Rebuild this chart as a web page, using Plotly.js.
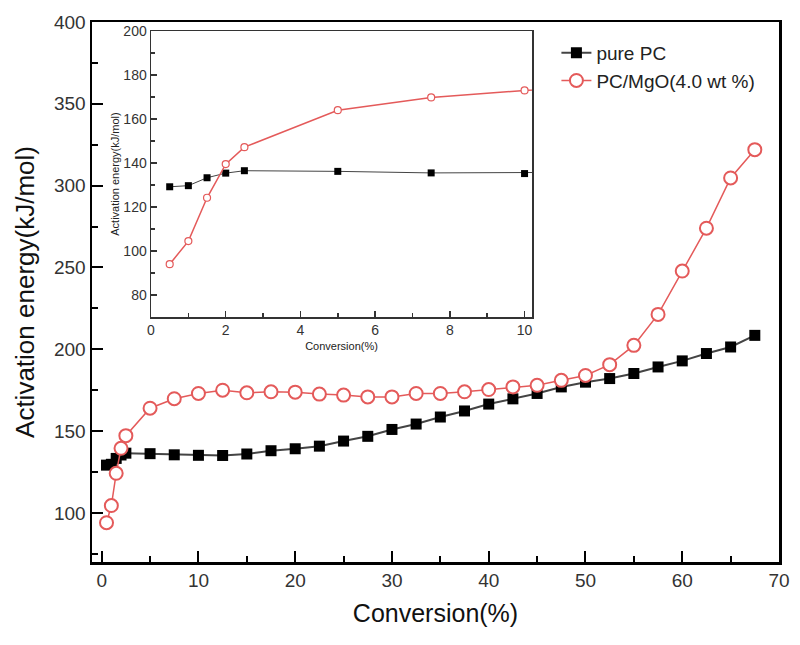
<!DOCTYPE html>
<html>
<head>
<meta charset="utf-8">
<script src="https://cdn.plot.ly/plotly-3.0.1.min.js"></script>
<style>html,body{margin:0;padding:0;background:#fff;}#chart{width:800px;height:645px;}</style>
</head>
<body>
<div id="chart"></div>
<script>
// Data
const conversion = [0.5, 1, 1.5, 2, 2.5, 5, 7.5, 10, 12.5, 15, 17.5, 20, 22.5, 25, 27.5, 30, 32.5, 35, 37.5, 40, 42.5, 45, 47.5, 50, 52.5, 55, 57.5, 60, 62.5, 65, 67.5];
const purePC = [129.2, 129.7, 133.3, 135.4, 136.5, 136.2, 135.5, 135.2, 135.1, 136.0, 138.0, 139.2, 140.8, 143.9, 146.8, 151.0, 154.3, 158.6, 162.3, 166.5, 169.7, 173.0, 177.0, 179.9, 182.1, 185.2, 189.2, 192.9, 197.4, 201.4, 208.5];
const pcMgO = [94.0, 104.5, 124.2, 139.5, 147.2, 164.0, 169.8, 173.0, 175.0, 173.4, 174.0, 173.8, 172.6, 172.0, 170.9, 170.9, 173.0, 173.0, 174.0, 175.4, 177.0, 178.0, 181.0, 184.0, 190.6, 202.4, 221.3, 247.8, 274.0, 304.7, 322.0];
const seriesNames = ['pure PC', 'PC/MgO(4.0 wt %)'];

const RED = '#e45a5a';
const FONT = 'Liberation Sans, Arial, sans-serif';

const traces = [
  {x: conversion, y: purePC, name: seriesNames[0], type: 'scatter', mode: 'lines+markers',
   line: {color: '#444', width: 2}, marker: {symbol: 'square', size: 11, color: '#000'},
   xaxis: 'x', yaxis: 'y'},
  {x: conversion, y: pcMgO, name: seriesNames[1], type: 'scatter', mode: 'lines+markers',
   line: {color: RED, width: 1.5}, marker: {symbol: 'circle', size: 13, color: '#fff', line: {color: RED, width: 2}},
   xaxis: 'x', yaxis: 'y'},
  {x: conversion, y: purePC, name: seriesNames[0], type: 'scatter', mode: 'lines+markers', showlegend: false,
   line: {color: '#444', width: 1}, marker: {symbol: 'square', size: 7, color: '#000'},
   xaxis: 'x2', yaxis: 'y2'},
  {x: conversion, y: pcMgO, name: seriesNames[1], type: 'scatter', mode: 'lines+markers', showlegend: false,
   line: {color: RED, width: 1.5}, marker: {symbol: 'circle', size: 7, color: '#fff', line: {color: RED, width: 1.2}},
   xaxis: 'x2', yaxis: 'y2'}
];

const layout = {
  width: 800, height: 645,
  margin: {l: 92, r: 21, t: 22, b: 83},
  paper_bgcolor: '#fff', plot_bgcolor: '#fff',
  font: {family: FONT, color: '#222'},
  showlegend: true,
  legend: {x: 0.676, y: 0.978, xanchor: 'left', yanchor: 'top', bgcolor: 'rgba(0,0,0,0)',
           font: {size: 19, family: FONT, color: '#222'}, tracegroupgap: 0},
  xaxis: {
    domain: [0, 1], range: [-1, 70], anchor: 'y',
    tickmode: 'linear', tick0: 0, dtick: 10,
    ticks: 'inside', ticklen: 11, tickwidth: 2, tickcolor: '#000',
    minor: {dtick: 5, ticks: 'inside', ticklen: 6, tickwidth: 2, tickcolor: '#000'},
    showline: true, linewidth: 2.5, linecolor: '#000', mirror: true,
    showgrid: false, zeroline: false,
    tickfont: {size: 19, color: '#333', family: FONT},
    title: {text: 'Conversion(%)', font: {size: 25, color: '#111', family: FONT}, standoff: 14},
    automargin: false
  },
  yaxis: {
    domain: [0, 1], range: [70, 400], anchor: 'x',
    tickmode: 'linear', tick0: 100, dtick: 50,
    ticks: 'inside', ticklen: 11, tickwidth: 2, tickcolor: '#000',
    minor: {dtick: 25, tick0: 0, ticks: 'inside', ticklen: 6, tickwidth: 2, tickcolor: '#000'},
    showline: true, linewidth: 2.5, linecolor: '#000', mirror: true,
    showgrid: false, zeroline: false,
    tickfont: {size: 19, color: '#333', family: FONT},
    title: {text: 'Activation energy(kJ/mol)', font: {size: 26, color: '#111', family: FONT}, standoff: 12},
    automargin: false
  },
  xaxis2: {
    domain: [0.0859, 0.6405], range: [0, 10.2], anchor: 'y2',
    tickmode: 'linear', tick0: 0, dtick: 2,
    ticks: 'inside', ticklen: 6, tickwidth: 1.5, tickcolor: '#333',
    minor: {dtick: 1, ticks: 'inside', ticklen: 4, tickwidth: 1.5, tickcolor: '#333'},
    showline: true, linewidth: 1.5, linecolor: '#333', mirror: true,
    showgrid: false, zeroline: false,
    tickfont: {size: 14, color: '#333', family: FONT},
    title: {text: 'Conversion(%)', font: {size: 11, color: '#222', family: FONT}, standoff: 5},
    automargin: false
  },
  yaxis2: {
    domain: [0.4537, 0.9833], range: [70, 200], anchor: 'x2',
    tickmode: 'linear', tick0: 80, dtick: 20,
    ticks: 'inside', ticklen: 6, tickwidth: 1.5, tickcolor: '#333',
    minor: {dtick: 10, ticks: 'inside', ticklen: 4, tickwidth: 1.5, tickcolor: '#333'},
    showline: true, linewidth: 1.5, linecolor: '#333', mirror: true,
    showgrid: false, zeroline: false,
    tickfont: {size: 14, color: '#333', family: FONT},
    title: {text: 'Activation energy(kJ/mol)', font: {size: 11, color: '#222', family: FONT}, standoff: 1},
    automargin: false
  }
};

Plotly.newPlot('chart', traces, layout, {displayModeBar: false, staticPlot: true});
</script>
</body>
</html>
